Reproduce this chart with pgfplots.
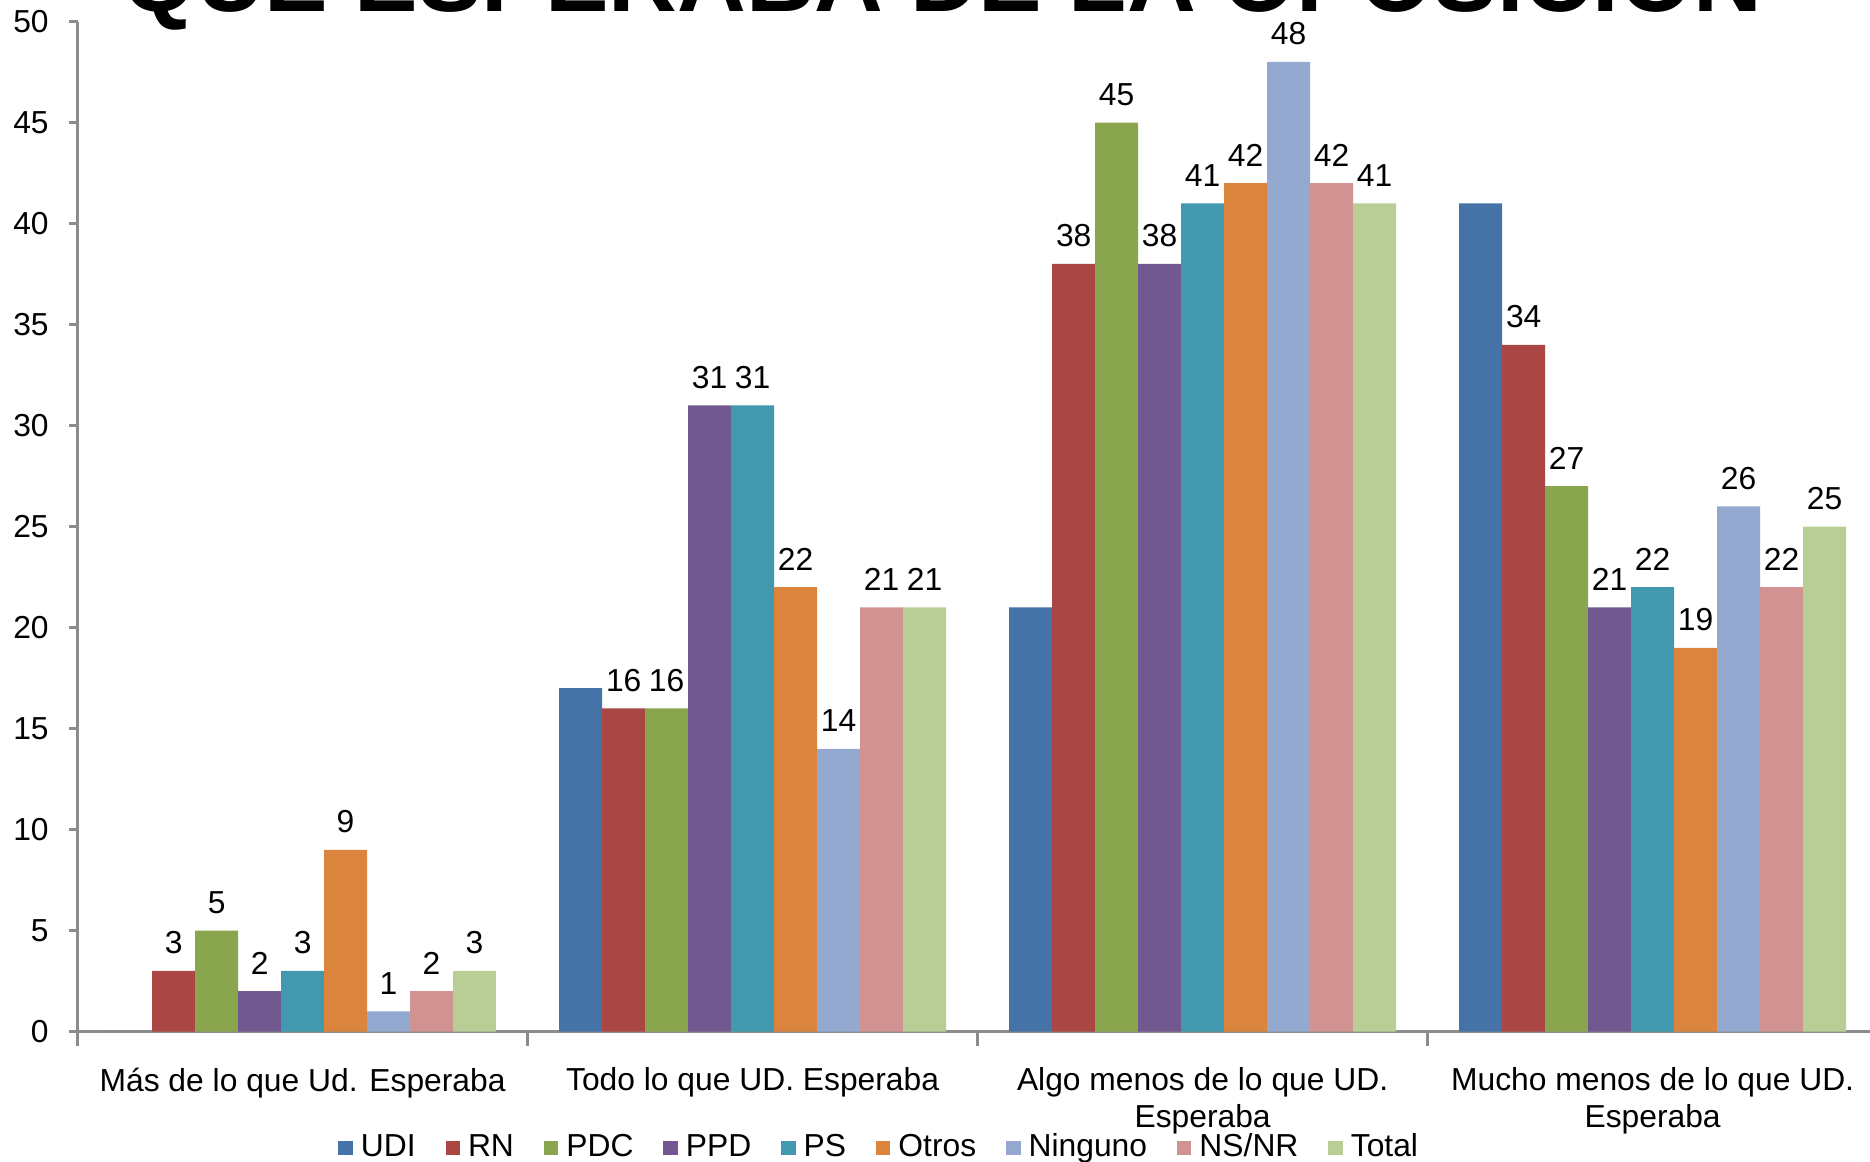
\documentclass[border=0pt]{standalone}
\usepackage{pgfplots}
\pgfplotsset{compat=1.18}
\usepackage{pgfplotstable}
\usepackage{fontspec}
\setmainfont{Liberation Sans}
\definecolor{cUDI}{HTML}{4572A7}
\definecolor{cRN}{HTML}{AA4643}
\definecolor{cPDC}{HTML}{89A54E}
\definecolor{cPPD}{HTML}{71588F}
\definecolor{cPS}{HTML}{4198AF}
\definecolor{cOtros}{HTML}{DB843D}
\definecolor{cNin}{HTML}{93A9CF}
\definecolor{cNS}{HTML}{D19392}
\definecolor{cTot}{HTML}{B9CD96}
\pgfplotstableread{
x UDI RN PDC PPD PS Otros Ninguno NSNR Total
0 0 3 5 2 3 9 1 2 3
1 17 16 16 31 31 22 14 21 21
2 21 38 45 38 41 42 48 42 41
3 41 34 27 21 22 19 26 22 25
}\data
\begin{document}
\begin{tikzpicture}
\begin{axis}[
  at={(19.4pt,32.6pt)}, anchor=south west,
  scale only axis, width=450pt, height=252.5pt,
  xmin=-0.5, xmax=3.5, ymin=0, ymax=50,
  ytick={0,5,...,50},
  xtick={0,1,2,3},
  xticklabels={{Más de lo que Ud. Esperaba},{Todo lo que UD. Esperaba},{Algo menos de lo que UD.\\Esperaba},{Mucho menos de lo que UD.\\Esperaba}},
  axis x line*=bottom, axis y line*=left,
  axis line style={-, draw=black!45, line width=0.6pt},
  tick align=outside,
  major tick length=2.2pt,
  every tick/.style={draw=black!45, line width=0.6pt},
  major x tick style={draw=none},
  extra x ticks={-0.5,0.5,1.5,2.5,3.5},
  extra x tick labels={},
  extra x tick style={major tick length=3.6pt, major x tick style={draw=black!45, line width=0.6pt}},
  /pgf/number format/assume math mode=true,
  tick label style={font=\fontsize{7.95}{9.25}\selectfont, text=black},
  xticklabel style={align=center, yshift=-3.3pt},
  yticklabel style={xshift=-1.5pt},
  ybar, bar width=0.0955,
  every node near coord/.append style={font=\fontsize{7.95}{9.25}\selectfont, text=black, yshift=0.7pt},
  legend columns=9,
  legend style={draw=none, fill=none, at={(0.447,-0.1155)}, anchor=center,
    font=\fontsize{7.95}{9.25}\selectfont, inner sep=0pt,
    /tikz/every even column/.append style={column sep=5.5pt}},
  legend image code/.code={\draw[#1,draw=none] (0pt,-1.8pt) rectangle (3.6pt,1.8pt);},
]
\addplot[fill=cUDI, draw=none, bar shift=-0.382] table[x=x,y=UDI]{\data};
\addplot[fill=cRN, draw=none, bar shift=-0.2865, nodes near coords] table[x=x,y=RN]{\data};
\addplot[fill=cPDC, draw=none, bar shift=-0.191, nodes near coords] table[x=x,y=PDC]{\data};
\addplot[fill=cPPD, draw=none, bar shift=-0.0955, nodes near coords] table[x=x,y=PPD]{\data};
\addplot[fill=cPS, draw=none, bar shift=0, nodes near coords] table[x=x,y=PS]{\data};
\addplot[fill=cOtros, draw=none, bar shift=0.0955, nodes near coords] table[x=x,y=Otros]{\data};
\addplot[fill=cNin, draw=none, bar shift=0.191, nodes near coords] table[x=x,y=Ninguno]{\data};
\addplot[fill=cNS, draw=none, bar shift=0.2865, nodes near coords] table[x=x,y=NSNR]{\data};
\addplot[fill=cTot, draw=none, bar shift=0.382, nodes near coords] table[x=x,y=Total]{\data};
\legend{UDI,RN,PDC,PPD,PS,Otros,Ninguno,NS/NR,Total}
\end{axis}
\node[anchor=base, font=\bfseries\fontsize{23.8}{28}\selectfont, inner sep=0pt] at (235.5pt,287.5pt) {QUE ESPERABA DE LA OPOSICIÓN};
\pgfresetboundingbox
\useasboundingbox (0,0) rectangle (467.5pt,290.5pt);
\end{tikzpicture}
\end{document}
